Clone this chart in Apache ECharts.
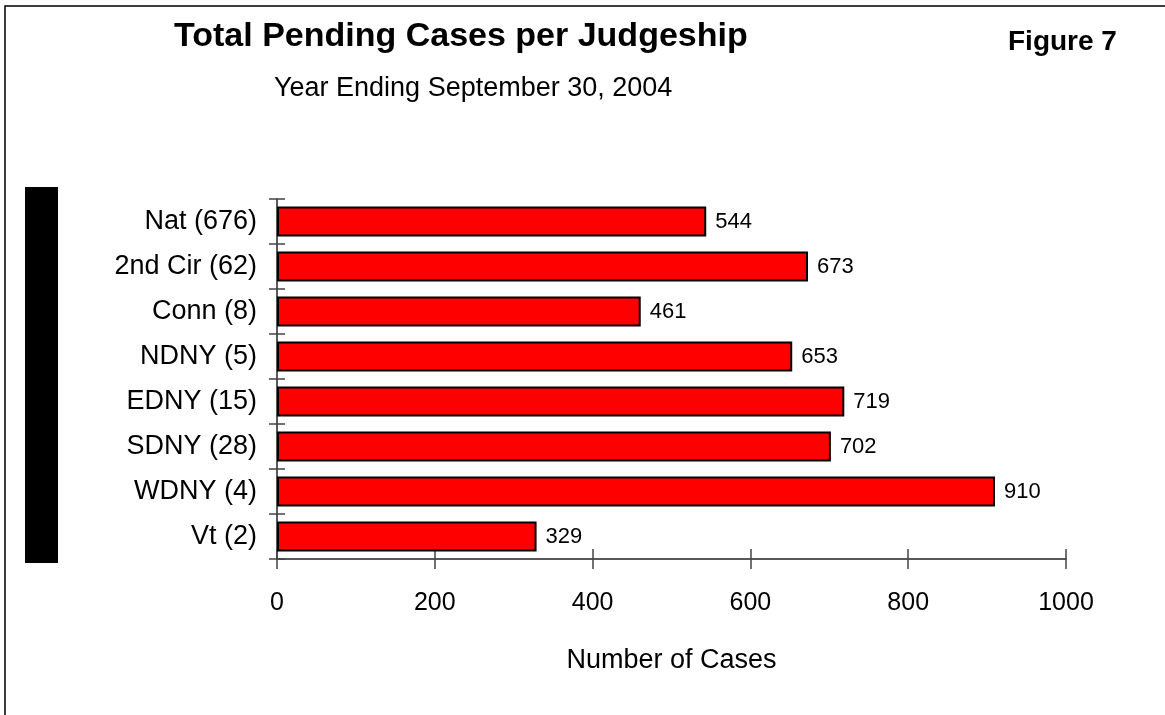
<!DOCTYPE html>
<html>
<head>
<meta charset="utf-8">
<script src="https://cdn.jsdelivr.net/npm/echarts@6/dist/echarts.min.js"></script>
<style>
html,body{margin:0;padding:0;background:#fff;}
#main{width:1165px;height:715px;}
</style>
</head>
<body>
<div id="main"></div>
<script>
const categories = ['Nat (676)', '2nd Cir (62)', 'Conn (8)', 'NDNY (5)', 'EDNY (15)', 'SDNY (28)', 'WDNY (4)', 'Vt (2)'];
const pendingCases = [544, 673, 461, 653, 719, 702, 910, 329];
const xTicks = [0, 200, 400, 600, 800, 1000];

const FONT = '"Liberation Sans", Arial, sans-serif';
const chart = echarts.init(document.getElementById('main'), null, {renderer: 'canvas'});

const axisLineStyle = {color: '#222', width: 1.5};
const tickStyle = {color: '#444', width: 1.5};

chart.setOption({
  animation: false,
  backgroundColor: '#fff',
  title: [
    {text: 'Total Pending Cases per Judgeship', left: 169, top: 15,
     textStyle: {fontFamily: FONT, fontWeight: 'bold', fontSize: 34, color: '#000'}},
    {text: 'Year Ending September 30, 2004', left: 269, top: 70,
     textStyle: {fontFamily: FONT, fontWeight: 'normal', fontSize: 27, color: '#000'}},
    {text: 'Figure 7', left: 1003, top: 23,
     textStyle: {fontFamily: FONT, fontWeight: 'bold', fontSize: 28, color: '#000'}}
  ],
  graphic: [
    {type: 'rect', shape: {x: 5, y: 6, width: 1200, height: 800},
     style: {fill: 'none', stroke: '#000', lineWidth: 1.5}, silent: true},
    {type: 'rect', shape: {x: 25, y: 187, width: 33, height: 376},
     style: {fill: '#000'}, silent: true}
  ],
  grid: {left: 277, right: 99, top: 199, bottom: 156, containLabel: false},
  xAxis: [
    {type: 'value', min: 0, max: 1000, interval: 200, position: 'bottom',
     axisLine: {show: true, lineStyle: axisLineStyle},
     axisTick: {show: true, length: 10, lineStyle: tickStyle},
     axisLabel: {fontFamily: FONT, fontSize: 25, color: '#000', margin: 32,
       formatter: v => xTicks.includes(v) ? String(v) : ''},
     splitLine: {show: false},
     name: 'Number of Cases', nameLocation: 'middle', nameGap: 88,
     nameTextStyle: {fontFamily: FONT, fontSize: 27, color: '#000'}},
    {type: 'value', min: 0, max: 1000, interval: 200, position: 'bottom', offset: 0,
     axisLine: {show: false},
     axisTick: {show: true, inside: true, length: 10, lineStyle: tickStyle},
     axisLabel: {show: false}, splitLine: {show: false}}
  ],
  yAxis: [
    {type: 'category', data: categories, inverse: true, position: 'left',
     axisLine: {show: true, lineStyle: axisLineStyle},
     axisTick: {show: true, length: 8, lineStyle: tickStyle},
     axisLabel: {fontFamily: FONT, fontSize: 27, color: '#000', margin: 20}},
    {type: 'category', data: categories, inverse: true, position: 'left', offset: 0,
     axisLine: {show: false},
     axisTick: {show: true, inside: true, length: 8, lineStyle: tickStyle},
     axisLabel: {show: false}}
  ],
  series: [{
    type: 'bar', xAxisIndex: 0, yAxisIndex: 0,
    data: pendingCases,
    barCategoryGap: '33%',
    itemStyle: {color: '#ff0000', borderColor: '#000', borderWidth: 2},
    label: {show: true, position: 'right', distance: 9,
      fontFamily: FONT, fontSize: 22, color: '#000'}
  }]
});
</script>
</body>
</html>
